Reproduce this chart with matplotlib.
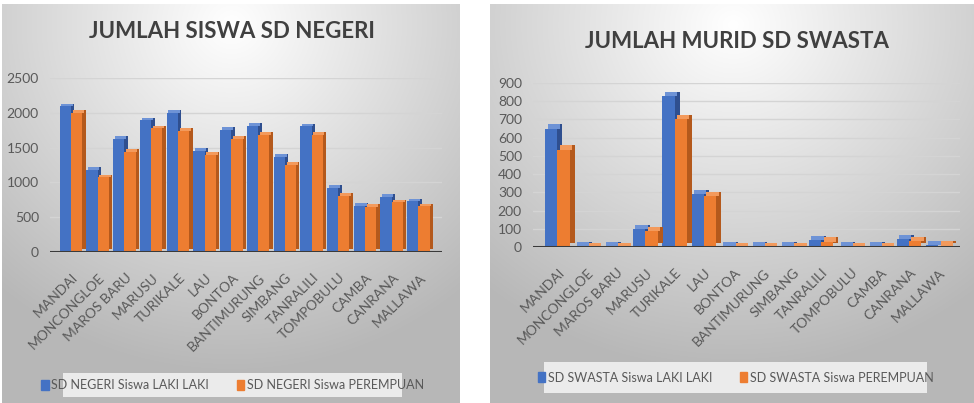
import numpy as np
import matplotlib
matplotlib.use("Agg")
import matplotlib.pyplot as plt
from matplotlib.patches import Rectangle

plt.rcParams['font.family'] = ['Lato', 'DejaVu Sans']

# ---------------- data ----------------
categories = ["MANDAI", "MONCONGLOE", "MAROS BARU", "MARUSU", "TURIKALE", "LAU",
              "BONTOA", "BANTIMURUNG", "SIMBANG", "TANRALILI", "TOMPOBULU",
              "CAMBA", "CANRANA", "MALLAWA"]

negeri_laki = [2095, 1180, 1625, 1890, 2000, 1455, 1755, 1815, 1365, 1805, 920, 660, 790, 730]
negeri_perempuan = [2000, 1075, 1440, 1775, 1740, 1395, 1625, 1680, 1255, 1685, 805, 650, 715, 655]

swasta_laki = [650, 3, 3, 100, 830, 290, 3, 3, 3, 40, 3, 3, 45, 12]
swasta_perempuan = [535, 2, 2, 88, 700, 278, 2, 2, 2, 30, 2, 2, 35, 8]

negeri_title = "JUMLAH SISWA SD NEGERI"
swasta_title = "JUMLAH MURID SD SWASTA"
negeri_labels = ["SD NEGERI Siswa LAKI LAKI", "SD NEGERI Siswa PEREMPUAN"]
swasta_labels = ["SD SWASTA Siswa LAKI LAKI", "SD SWASTA Siswa PEREMPUAN"]
negeri_ticks = [0, 500, 1000, 1500, 2000, 2500]
swasta_ticks = [0, 100, 200, 300, 400, 500, 600, 700, 800, 900]

BLUE, BLUE_D, BLUE_T = "#4472C4", "#2F4F8F", "#6E93D6"
ORANGE, ORANGE_D, ORANGE_T = "#ED7D31", "#B4591C", "#F39A5C"
W, H = 974, 403

fig = plt.figure(figsize=(W / 100, H / 100), dpi=100)
fig.patch.set_facecolor("white")


def px_rect(x0, y0, x1, y1):
    return [x0 / W, 1 - y1 / H, (x1 - x0) / W, (y1 - y0) / H]


def panel(x0, y0, x1, y1):
    bg = fig.add_axes(px_rect(x0, y0, x1, y1), zorder=0)
    ny, nx = 200, 300
    yy, xx = np.mgrid[0:ny, 0:nx]
    cx, cy = nx / 2, ny * 0.05
    r = np.sqrt(((xx - cx) / nx) ** 2 + ((yy - cy) / ny * 0.9) ** 2)
    v = 1.0 - 0.28 * np.clip(r / 0.78, 0, 1) ** 1.0
    img = np.dstack([v, v, v])
    bg.imshow(img, aspect="auto", extent=[0, 1, 0, 1], interpolation="bilinear")
    bg.set_axis_off()


panel(2, 4, 460, 403)
panel(490, 4, 974, 403)


def chart(rect, a, b, ticks, ymax, xlim, depth, dyf, title, tpos, labels, leg_rect, tsize):
    ax = fig.add_axes(px_rect(*rect), zorder=2)
    ax.set_facecolor("none")
    x = np.arange(len(categories))
    fw = 0.42
    dy = ymax * dyf
    for vals, off, c, cd, ct, z in [(a, -0.24, BLUE, BLUE_D, BLUE_T, 3),
                                    (b, 0.18, ORANGE, ORANGE_D, ORANGE_T, 5)]:
        vals = np.asarray(vals, float)
        # side/depth face
        ax.bar(x + off + depth, vals, width=fw, bottom=dy, color=cd, zorder=z, linewidth=0)
        # top face
        ax.bar(x + off + depth / 2, dy, width=fw, bottom=vals, color=ct, zorder=z, linewidth=0)
        # front face
        ax.bar(x + off, vals, width=fw, color=c, zorder=z + 1, linewidth=0)
    ax.set_ylim(0, ymax)
    ax.set_xlim(*xlim)
    ax.set_yticks(ticks)
    ax.set_yticklabels([str(t) for t in ticks])
    for t in ticks[1:]:
        ax.axhline(t, color="#d4d4d4", lw=1.0, zorder=1)
    ax.axhline(0, color="#3a3a3a", lw=2.2, zorder=8)
    ax.tick_params(axis="y", length=0, pad=8, labelsize=10, labelcolor="#595959")
    ax.set_xticks(x)
    ax.set_xticklabels(categories, rotation=45, ha="right", rotation_mode="anchor",
                       fontsize=10, color="#595959")
    ax.tick_params(axis="x", length=0, pad=14)
    for s in ax.spines.values():
        s.set_visible(False)
    fig.text(tpos[0] / W, 1 - tpos[1] / H, title, ha="center", va="center",
             fontsize=tsize, fontweight="bold", color="#404040")
    # legend box
    lx0, ly0, lx1, ly1 = leg_rect
    lax = fig.add_axes(px_rect(lx0, ly0, lx1, ly1), zorder=3)
    lax.set_xlim(0, 1)
    lax.set_ylim(0, 1)
    lax.set_facecolor("#ebebeb")
    for s in lax.spines.values():
        s.set_visible(False)
    lax.set_xticks([])
    lax.set_yticks([])
    h1 = Rectangle((0, 0), 1, 1, color=BLUE)
    h2 = Rectangle((0, 0), 1, 1, color=ORANGE)
    lax.legend([h1, h2], labels, loc="center", ncol=2, frameon=False, fontsize=9,
               handlelength=0.6, handleheight=0.9, handletextpad=0.2,
               columnspacing=2.2, labelcolor="#595959")
    return ax


chart((50, 78, 442, 252), negeri_laki, negeri_perempuan, negeri_ticks, 2500,
      (-0.81, 13.85), 0.13, 0.015, negeri_title, (232, 32), negeri_labels,
      (63, 373, 402, 397), 16)

chart((533, 83, 960, 247), swasta_laki, swasta_perempuan, swasta_ticks, 900,
      (-0.86, 13.71), 0.17, 0.025, swasta_title, (737, 42), swasta_labels,
      (544, 362, 927, 393), 16)

fig.savefig("out.png", dpi=100, facecolor="white")
